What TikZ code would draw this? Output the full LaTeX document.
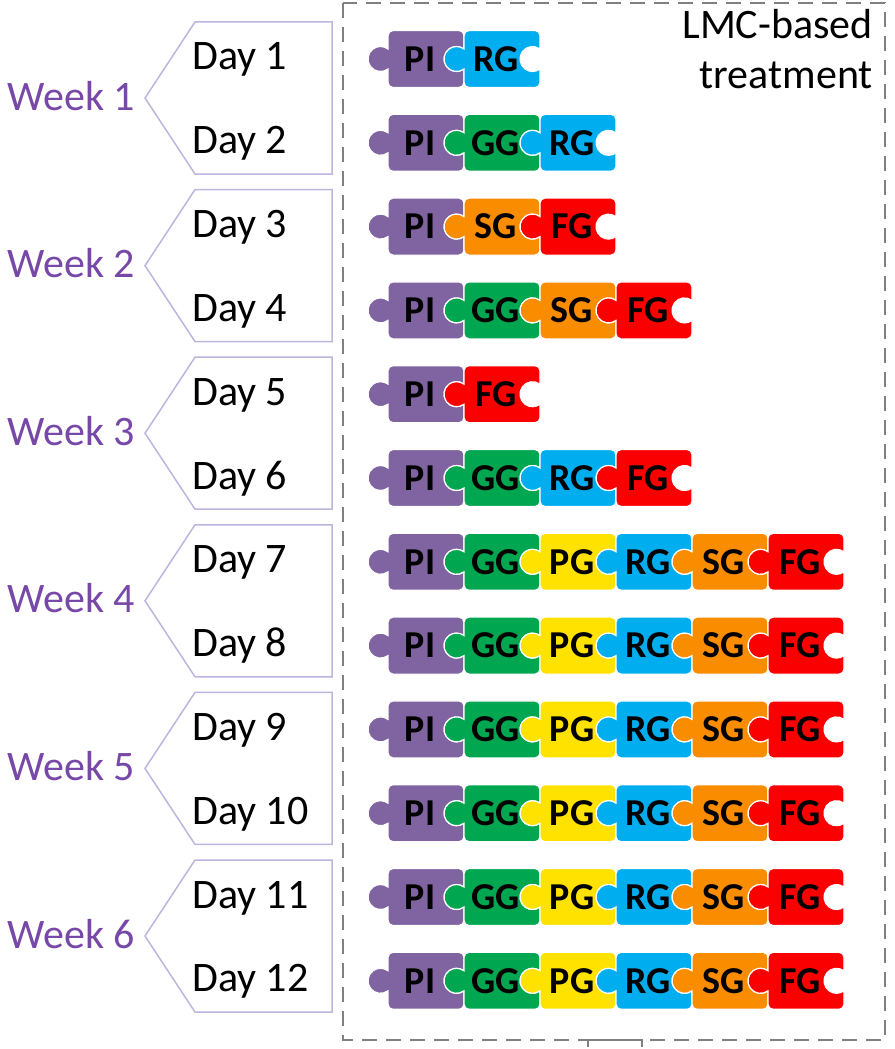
\documentclass[tikz,border=0pt]{standalone}
\usepackage{fontspec}
\setmainfont{Carlito}
\usetikzlibrary{positioning}
\definecolor{pipurple}{RGB}{128,100,162}
\definecolor{gggreen}{RGB}{0,166,80}
\definecolor{pgyellow}{RGB}{255,226,0}
\definecolor{rgblue}{RGB}{0,174,239}
\definecolor{sgorange}{RGB}{250,140,0}
\definecolor{fgred}{RGB}{250,0,0}
\definecolor{weekpurple}{RGB}{120,72,168}
\definecolor{bracelav}{RGB}{190,180,222}
\tikzset{
  daylabel/.style={anchor=base west, inner sep=0pt, font=\fontsize{42}{42}\selectfont},
  weeklabel/.style={anchor=base east, inner sep=0pt, text=weekpurple, font=\fontsize{42}{42}\selectfont},
  weekbrace/.style={draw=bracelav, line width=1.5pt, line join=miter},
  treatbox/.style={draw=black!50, line width=2pt, dash pattern=on 15pt off 9pt},
  pics/piece/.style 2 args={code={
    \filldraw[fill=#1, draw=white, line width=1.2pt]
      (5,28.5) -- (71,28.5) arc[start angle=90, end angle=0, radius=5]
      -- (76,10) arc[start angle=53.13, end angle=306.87, radius=12.5]
      -- (76,-23.5) arc[start angle=0, end angle=-90, radius=5]
      -- (5,-28.5) arc[start angle=270, end angle=180, radius=5]
      -- (0,-10) arc[start angle=-53.13, end angle=-306.87, radius=12.5]
      -- (0,23.5) arc[start angle=180, end angle=90, radius=5] -- cycle;
    \node[font=\fontsize{38}{38}\selectfont\bfseries, inner sep=0pt] (-txt) at (32,0) {#2};
  }}
}
% one row of puzzle pieces: #1 = day, #2 = colour/label list
\newcommand{\piecerow}[2]{%
  \foreach \c/\t [count=\k] in {#2}
    \pic (r#1p\k) at ({388+76*(\k-1)}, {-59-83.8*(#1-1)}) {piece={\c}{\t}};
}
\begin{document}
\begin{tikzpicture}[x=1pt, y=1pt]
\useasboundingbox (0,0) rectangle (894,-1049);

% week brackets
\foreach \w in {1,...,6} {
  \pgfmathsetmacro\wtop{22+167.6*(\w-1)}
  \draw[weekbrace] (332,-\wtop) -- (195,-\wtop) -- (145,-\wtop-76)
    -- (195,-\wtop-152) -- (332,-\wtop-152) -- cycle;
  \node[weeklabel] (w\w) at (135,-\wtop-88) {Week \w};
}

% days
\foreach \d in {1,...,12}
  \node[daylabel] (d\d) at (192,{-59-83.8*(\d-1)-11}) {Day \d};

% treatment box
\draw[treatbox] (343,-3) rectangle (885,-1040);
\draw[black!50, line width=1.5pt] (588,-1047) -- (588,-1040) -- (642,-1040) -- (642,-1047);
\node[anchor=north east, align=right, inner sep=0pt, font=\fontsize{42}{50}\selectfont]
  (lmc) at (873,-9) {LMC-based\\treatment};

% pieces
\piecerow{1}{pipurple/PI, rgblue/RG}
\piecerow{2}{pipurple/PI, gggreen/GG, rgblue/RG}
\piecerow{3}{pipurple/PI, sgorange/SG, fgred/FG}
\piecerow{4}{pipurple/PI, gggreen/GG, sgorange/SG, fgred/FG}
\piecerow{5}{pipurple/PI, fgred/FG}
\piecerow{6}{pipurple/PI, gggreen/GG, rgblue/RG, fgred/FG}
\piecerow{7}{pipurple/PI, gggreen/GG, pgyellow/PG, rgblue/RG, sgorange/SG, fgred/FG}
\piecerow{8}{pipurple/PI, gggreen/GG, pgyellow/PG, rgblue/RG, sgorange/SG, fgred/FG}
\piecerow{9}{pipurple/PI, gggreen/GG, pgyellow/PG, rgblue/RG, sgorange/SG, fgred/FG}
\piecerow{10}{pipurple/PI, gggreen/GG, pgyellow/PG, rgblue/RG, sgorange/SG, fgred/FG}
\piecerow{11}{pipurple/PI, gggreen/GG, pgyellow/PG, rgblue/RG, sgorange/SG, fgred/FG}
\piecerow{12}{pipurple/PI, gggreen/GG, pgyellow/PG, rgblue/RG, sgorange/SG, fgred/FG}
\end{tikzpicture}
\end{document}
